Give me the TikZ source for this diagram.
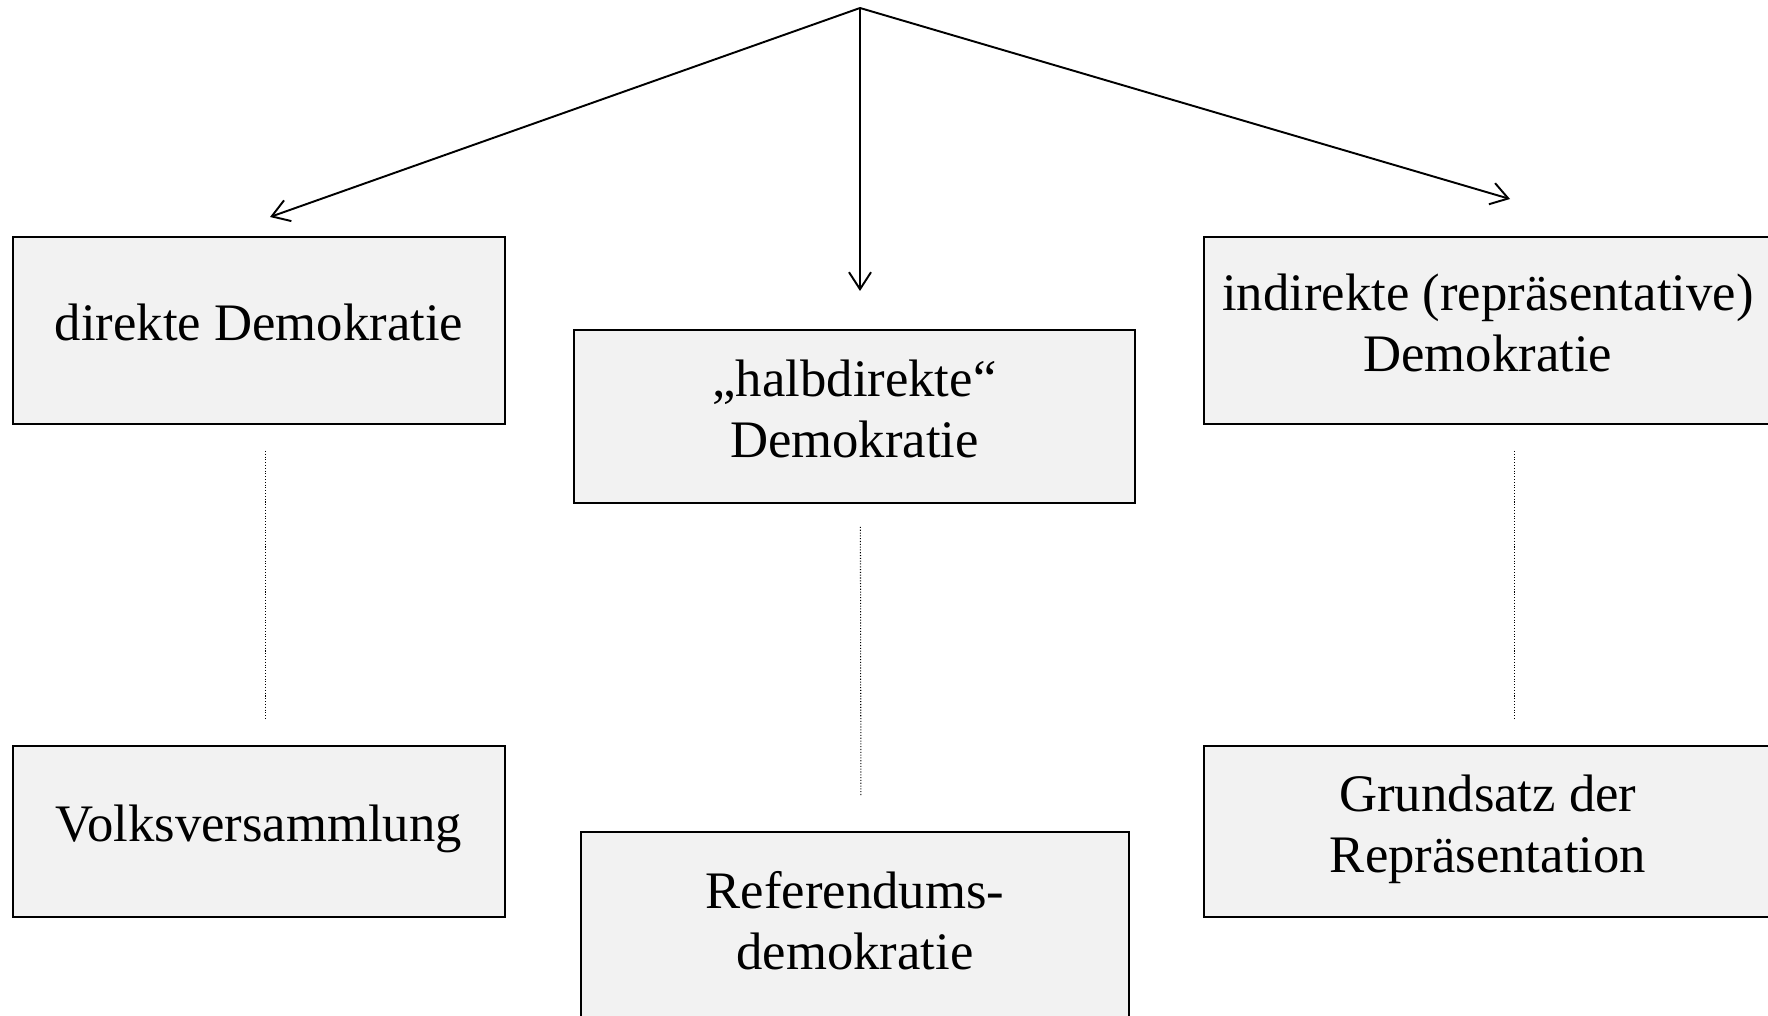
\documentclass[tikz,border=0pt]{standalone}
\usepackage{fontspec}
\setmainfont{Liberation Serif}
\usepackage{tikz}
\usetikzlibrary{positioning,calc,arrows.meta}
\tikzset{
  formbox/.style ={rectangle, draw=black, fill=black!5, line width=1.1pt, align=center, inner sep=0pt, text depth=9.1pt, anchor=north west, font=\fontsize{30}{34.5}\selectfont},
  branch/.style  ={-{Straight Barb[length=3.4mm,width=4.4mm,line width=1.1pt]}, line width=1.1pt},
  linkdot/.style ={densely dotted, line width=0.6pt},
}
\begin{document}
\begin{tikzpicture}[x=0.02cm,y=-0.02cm]
\clip (0,0) rectangle (1768,1016);
% --- upper row: forms of democracy ---
\node[formbox, minimum width=9.84cm,  minimum height=3.74cm] (direkt)   at (12,236)   {direkte Demokratie};
\node[formbox, minimum width=11.22cm, minimum height=3.46cm] (halb)     at (573,329)  {„halbdirekte“\\Demokratie};
\node[formbox, minimum width=11.36cm, minimum height=3.74cm] (indirekt) at (1203,236) {indirekte (repräsentative)\\Demokratie};
% --- lower row ---
\node[formbox, minimum width=9.84cm,  minimum height=3.42cm] (volk)     at (12,745)   {Volksversammlung};
\node[formbox, minimum width=10.96cm, minimum height=3.86cm] (referend) at (580,831)  {Referendums-\\demokratie};
\node[formbox, minimum width=11.36cm, minimum height=3.42cm] (grund)    at (1203,745) {Grundsatz der\\Repräsentation};
% --- arrows from the top ---
\coordinate (top)  at (860,8);
\coordinate (tipL) at (270,217);
\coordinate (tipM) at (860,291);
\coordinate (tipR) at (1510,199);
\draw[branch] (top) -- (tipL);
\draw[branch] (top) -- (tipM);
\draw[branch] (top) -- (tipR);
% --- dotted links ---
\draw[linkdot] ($(direkt.south)+(7,26)$)    -- ($(volk.north)+(7,-27)$);
\draw[linkdot] ($(halb.south)+(6,23)$)      -- ($(referend.north)+(6,-35)$);
\draw[linkdot] ($(indirekt.south)+(27,26)$) -- ($(grund.north)+(27,-27)$);
\end{tikzpicture}
\end{document}
